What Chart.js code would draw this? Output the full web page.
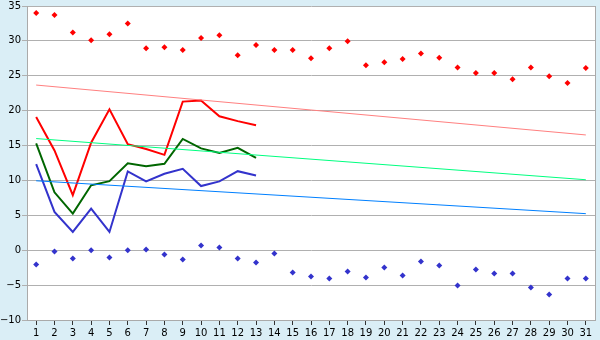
<!DOCTYPE html>
<html>
<head>
<meta charset="utf-8">
<script src="https://cdn.jsdelivr.net/npm/chart.js@4"></script>
<style>
  html, body { margin: 0; padding: 0; background: #daeef6; }
  #wrap { width: 600px; height: 340px; }
</style>
</head>
<body>
<div id="wrap"><canvas id="c" width="600" height="340"></canvas></div>
<script>
const days = ['1','2','3','4','5','6','7','8','9','10','11','12','13','14','15','16','17','18','19','20','21','22','23','24','25','26','27','28','29','30','31'];

const maxPoints = [34.0, 33.7, 31.2, 30.1, 30.95, 32.5, 28.95, 29.1, 28.7, 30.4, 30.8, 27.95, 29.4, 28.7, 28.7, 27.5, 28.95, 29.95, 26.5, 26.95, 27.4, 28.2, 27.6, 26.2, 25.4, 25.4, 24.5, 26.2, 24.95, 23.95, 26.1];
const minPoints = [-2.05, -0.2, -1.2, 0.0, -1.05, 0.0, 0.1, -0.6, -1.33, 0.67, 0.38, -1.2, -1.76, -0.48, -3.19, -3.76, -4.05, -3.05, -3.9, -2.48, -3.62, -1.62, -2.19, -5.05, -2.76, -3.33, -3.33, -5.33, -6.33, -4.05, -4.05];

const maxLine = [19.1, 14.3, 7.9, 15.4, 20.2, 15.2, 14.5, 13.67, 21.3, 21.45, 19.2, 18.5, 17.9];
const meanLine = [15.3, 8.3, 5.24, 9.3, 9.9, 12.45, 12.05, 12.38, 15.95, 14.6, 13.95, 14.67, 13.24];
const minLine = [12.35, 5.5, 2.62, 5.95, 2.62, 11.3, 9.86, 10.95, 11.67, 9.2, 9.86, 11.33, 10.7];

// trend lines: values read at first and last day only
const maxTrendEnds = [23.67, 16.52];
const meanTrendEnds = [16.0, 10.1];
const minTrendEnds = [9.95, 5.24];

const yTicks = { min: -10, max: 35, step: 5 };

function endsToSeries(ends) {
  const arr = days.map(() => null);
  arr[0] = ends[0];
  arr[days.length - 1] = ends[1];
  return arr;
}

const bgPlugin = {
  id: 'bg',
  beforeDraw(chart) {
    const { ctx, chartArea: a } = chart;
    ctx.save();
    ctx.fillStyle = '#daeef6';
    ctx.fillRect(0, 0, chart.width, chart.height);
    ctx.fillStyle = '#ffffff';
    ctx.fillRect(a.left, a.top, a.right - a.left, a.bottom - a.top);
    ctx.restore();
  },
  afterDraw(chart) {
    const { ctx, chartArea: a } = chart;
    ctx.save();
    ctx.strokeStyle = '#aaaaaa';
    ctx.lineWidth = 1;
    ctx.beginPath();
    ctx.moveTo(Math.round(a.right) + 0.5, a.top);
    ctx.lineTo(Math.round(a.right) + 0.5, a.bottom);
    ctx.stroke();
    ctx.restore();
  }
};

const font = { family: 'DejaVu Sans', size: 10, lineHeight: 1.0 };

new Chart(document.getElementById('c'), {
  type: 'line',
  data: {
    labels: days,
    datasets: [
      { label: 'max trend', data: endsToSeries(maxTrendEnds), borderColor: '#ff8080', borderWidth: 1, pointRadius: 0, spanGaps: true, tension: 0 },
      { label: 'mean trend', data: endsToSeries(meanTrendEnds), borderColor: '#00ff80', borderWidth: 1, pointRadius: 0, spanGaps: true, tension: 0 },
      { label: 'min trend', data: endsToSeries(minTrendEnds), borderColor: '#0080ff', borderWidth: 1, pointRadius: 0, spanGaps: true, tension: 0 },
      { label: 'max', data: maxLine, borderColor: '#ff0000', borderWidth: 2, pointRadius: 0, tension: 0 },
      { label: 'mean', data: meanLine, borderColor: '#006600', borderWidth: 2, pointRadius: 0, tension: 0 },
      { label: 'min', data: minLine, borderColor: '#3333cc', borderWidth: 2, pointRadius: 0, tension: 0 },
      { label: 'max points', data: maxPoints, showLine: false, pointStyle: 'rectRot', pointRadius: 3, pointBorderWidth: 0, pointBackgroundColor: '#ff0000', borderColor: '#ff0000' },
      { label: 'min points', data: minPoints, showLine: false, pointStyle: 'rectRot', pointRadius: 3, pointBorderWidth: 0, pointBackgroundColor: '#3333cc', borderColor: '#3333cc' }
    ]
  },
  options: {
    responsive: false,
    animation: false,
    layout: { padding: { top: 5, right: 5, left: 0, bottom: 0 } },
    plugins: { legend: { display: false }, tooltip: { enabled: false } },
    scales: {
      x: {
        type: 'category',
        offset: true,
        grid: { display: true, drawOnChartArea: false, drawTicks: true, tickLength: 5, offset: false, color: '#333333' },
        border: { display: true, color: '#aaaaaa' },
        ticks: { font: font, color: '#000000', padding: 3, maxRotation: 0, autoSkip: false },
        afterFit(scale) { scale.height = 20; }
      },
      y: {
        min: yTicks.min,
        max: yTicks.max,
        grid: { color: '#b0b0b0', tickLength: 5, drawTicks: true },
        border: { display: true, color: '#aaaaaa' },
        ticks: {
          stepSize: yTicks.step,
          font: font,
          color: '#000000',
          padding: 1,
          callback: (v) => String(v).replace('-', '\u2212')
        },
        afterFit(scale) { scale.width = 27; }
      }
    }
  },
  plugins: [bgPlugin]
});
</script>
</body>
</html>
